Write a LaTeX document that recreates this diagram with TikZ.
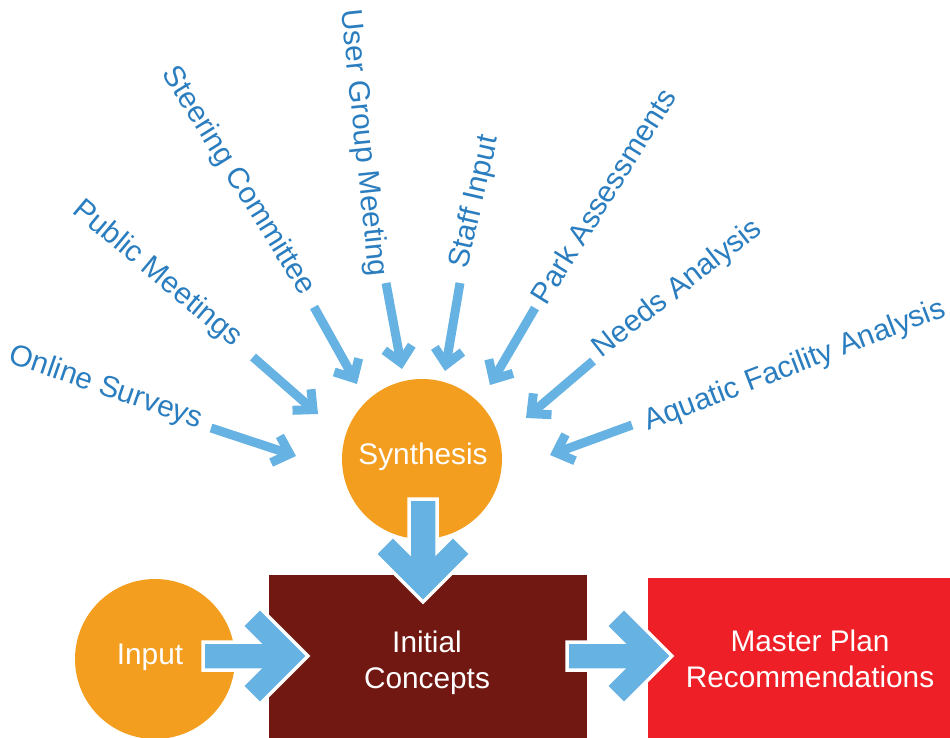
\documentclass[tikz,border=0pt]{standalone}
\usepackage{fontspec}
\setmainfont{Liberation Sans}
\usetikzlibrary{arrows.meta}
\definecolor{orng}{HTML}{F49E20}
\definecolor{dred}{HTML}{721812}
\definecolor{bred}{HTML}{EE1F26}
\definecolor{ablue}{HTML}{66B2E2}
\definecolor{tblue}{HTML}{2A7DBF}
\tikzset{
  lbl/.style={text=tblue, font=\fontsize{29.8}{34}\selectfont, inner sep=0pt, anchor=center},
  wlbl/.style={text=white, font=\fontsize{29.8}{35.5}\selectfont, align=center, inner sep=0pt},
  feed/.style={draw=ablue, line width=9pt, line cap=butt,
    -{Straight Barb[length=15pt,width=28pt,line join=miter,line cap=butt]}},
  blockarrow/.style={fill=ablue, draw=white, line width=3.5pt, line join=miter},
  circ/.style={circle, fill=orng, minimum size=160pt, inner sep=0pt},
}
\newcommand{\blockarr}[4]{% tip x, tip y, rotation, shaft length
  \begin{scope}[shift={(#1,#2)}, rotate=#3]
    \path[blockarrow] (0,0) -- (-48,-48) -- (-66,-30) -- (-50,-14) -- (-#4,-14)
      -- (-#4,14) -- (-50,14) -- (-66,30) -- (-48,48) -- cycle;
  \end{scope}}
\begin{document}
\begin{tikzpicture}[x=1pt,y=-1pt]
\useasboundingbox (0,0) rectangle (950,738);
% boxes
\path[fill=dred] (269,575) rectangle (587,738);
\path[fill=bred] (648,578) rectangle (950,738);
\node[wlbl] (ic) at (427,663) {Initial\\Concepts};
\node[wlbl] (mp) at (810,659) {Master Plan\\Recommendations};
% circles
\node[circ] (syn) at (422,459) {};
\node[circ] (inp) at (155,659) {};
\node[wlbl] (synt) at (423,457) {Synthesis};
\node[wlbl] (inpt) at (150,657) {Input};
% block arrows
\blockarr{308}{656}{0}{105}
\blockarr{672}{656}{0}{105}
\blockarr{423}{602}{-90}{103}
% labels
\node[lbl, rotate=-19] (os) at (106,388) {Online Surveys};
\node[lbl, rotate=-40] (pm) at (157,274) {Public Meetings};
\node[lbl, rotate=-58] (sc) at (238,181) {Steering Committee};
\node[lbl, rotate=-84] (ug) at (363,143) {User Group Meeting};
\node[lbl, rotate=77] (si) at (475,202) {Staff Input};
\node[lbl, rotate=58] (pa) at (603,196) {Park Assessments};
\node[lbl, rotate=38] (na) at (678,289) {Needs Analysis};
\node[lbl, rotate=21] (af) at (795,366) {Aquatic Facility Analysis};
% feed arrows
\coordinate (s1) at (211,428); \coordinate (t1) at (296,456);
\coordinate (s2) at (253,357); \coordinate (t2) at (318,414);
\coordinate (s3) at (314,307); \coordinate (t3) at (357,384);
\coordinate (s4) at (386,283); \coordinate (t4) at (402,369);
\coordinate (s5) at (460,283); \coordinate (t5) at (445,371);
\coordinate (s6) at (535,308); \coordinate (t6) at (490,385);
\coordinate (s7) at (593,361); \coordinate (t7) at (526,418);
\coordinate (s8) at (632,425); \coordinate (t8) at (550,455);
\foreach \i in {1,...,8} {\draw[feed] (s\i) -- (t\i);}
\end{tikzpicture}
\end{document}
